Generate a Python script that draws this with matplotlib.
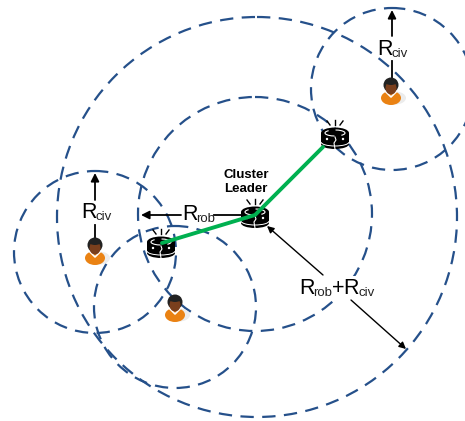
import matplotlib
matplotlib.use("Agg")
import matplotlib.pyplot as plt
from matplotlib.patches import Arc, Circle, Ellipse, Rectangle

plt.rcParams['font.family'] = ['Liberation Sans', 'DejaVu Sans']

W = 465
H = 421

# range circles: x, y, radius (picture pixels)
circle_x = [392, 95, 175, 255, 257]
circle_y = [89, 252, 307, 214, 217]
circle_r = [81, 81, 81, 117, 200]

robot_x = [335, 255, 161]
robot_y = [138, 217, 247]

person_x = [391, 95, 175]
person_y = [91, 251, 308]

# green links go through the leader
link_x = [323, 255, 162]
link_y = [147, 215, 243]

navy = '#25508a'
green = '#00b050'


def draw_robot(ax, x, y):
    ax.add_patch(Rectangle((x - 14, y - 5), 28, 11, color='black', lw=0, zorder=6))
    ax.add_patch(Ellipse((x, y - 5), 28, 11, color='black', lw=0, zorder=6))
    ax.add_patch(Ellipse((x, y + 6), 28, 10, color='black', lw=0, zorder=6))
    # white marks on the top plate, only on the two sides
    ax.add_patch(Arc((x, y - 5), 20, 6, theta1=100, theta2=200, color='white', lw=0.8, zorder=7))
    ax.add_patch(Arc((x, y - 5), 20, 6, theta1=280, theta2=20, color='white', lw=0.8, zorder=7))
    ax.add_patch(Arc((x, y + 4), 28, 8, theta1=0, theta2=180, color='white', lw=0.7, zorder=7))
    ax.plot([x, x + 1, x - 1, x], [y - 1, y + 2, y + 5, y + 11], color='white', lw=0.8, zorder=7)
    ax.add_patch(Circle((x - 8, y + 1), 1.2, color='white', lw=0, zorder=7))
    ax.add_patch(Circle((x + 8, y + 1), 1.2, color='white', lw=0, zorder=7))
    # little flashing rays
    ax.plot([x, x], [y - 18, y - 13], color='black', lw=1, zorder=7)
    ax.plot([x - 8, x - 5], [y - 17, y - 13], color='black', lw=1, zorder=7)
    ax.plot([x + 8, x + 5], [y - 17, y - 13], color='black', lw=1, zorder=7)


def draw_person(ax, x, y):
    ax.add_patch(Ellipse((x + 4, y + 7), 22, 13, color='#ececec', lw=0, zorder=5))
    ax.add_patch(Ellipse((x, y + 7), 20, 14, color='#ea8213', lw=0, zorder=6))
    ax.plot([x - 5, x, x + 5], [y + 1, y + 6, y + 1], color='white', lw=1.2, zorder=7)
    ax.add_patch(Ellipse((x, y - 3), 11, 13, color='#7a3f1d', lw=0, zorder=8))
    ax.add_patch(Circle((x, y - 6), 7.5, color='#222222', lw=0, zorder=7))
    ax.add_patch(Ellipse((x, y - 9), 12, 6, color='#222222', lw=0, zorder=9))


fig = plt.figure(figsize=(W / 100, H / 100), dpi=100)
ax = fig.add_axes([0, 0, 1, 1])
ax.set_xlim(0, W)
ax.set_ylim(H, 0)
ax.axis('off')

for cx, cy, r in zip(circle_x, circle_y, circle_r):
    ax.add_patch(Circle((cx, cy), r, fc='none', ec=navy, lw=1.6, ls=(0, (6, 3.8)), zorder=2))

ax.plot(link_x, link_y, color=green, lw=2.8, solid_capstyle='round', zorder=9)

for x, y in zip(robot_x, robot_y):
    draw_robot(ax, x, y)
for x, y in zip(person_x, person_y):
    draw_person(ax, x, y)

arrow = dict(arrowstyle='-|>', color='black', lw=1.3, mutation_scale=12, shrinkA=0, shrinkB=0)
ax.annotate('', xy=(392, 10), xytext=(392, 36), arrowprops=arrow, zorder=4)
ax.plot([392, 392], [61, 80], color='black', lw=1.3, zorder=4)
ax.annotate('', xy=(95, 173), xytext=(95, 200), arrowprops=arrow, zorder=4)
ax.plot([95, 95], [225, 240], color='black', lw=1.3, zorder=4)
ax.annotate('', xy=(141, 215), xytext=(181, 215), arrowprops=arrow, zorder=4)
ax.plot([214, 243], [215, 215], color='black', lw=1.3, zorder=4)

thin = dict(arrowstyle='-|>', color='black', lw=1.0, mutation_scale=10, shrinkA=0, shrinkB=0)
ax.annotate('', xy=(267, 226), xytext=(323, 275), arrowprops=thin, zorder=4)
ax.annotate('', xy=(406, 349), xytext=(351, 300), arrowprops=thin, zorder=4)


def r_label(x, y, sub, sub_dx):
    ax.text(x, y, 'R', fontsize=15.5, color='black', ha='left', va='baseline', zorder=10)
    ax.text(x + sub_dx, y + 2, sub, fontsize=9.5, color='#222222', ha='left', va='baseline', zorder=10)


# white patch behind the sum label hides the big circle there
ax.add_patch(Rectangle((297, 276), 78, 24, color='white', lw=0, zorder=3))

r_label(377, 55, 'civ', 14.5)
r_label(81, 218, 'civ', 14.5)
r_label(182, 220, 'rob', 14.5)
r_label(299, 294, 'rob', 14.5)
ax.text(332, 294, '+', fontsize=15.5, ha='left', va='baseline', zorder=10)
r_label(343, 294, 'civ', 15)

ax.text(246, 182, 'Cluster\nLeader', fontsize=9.5, fontweight='bold', ha='center', va='center',
        linespacing=1.2, zorder=10)

fig.savefig('out.png', dpi=100)
